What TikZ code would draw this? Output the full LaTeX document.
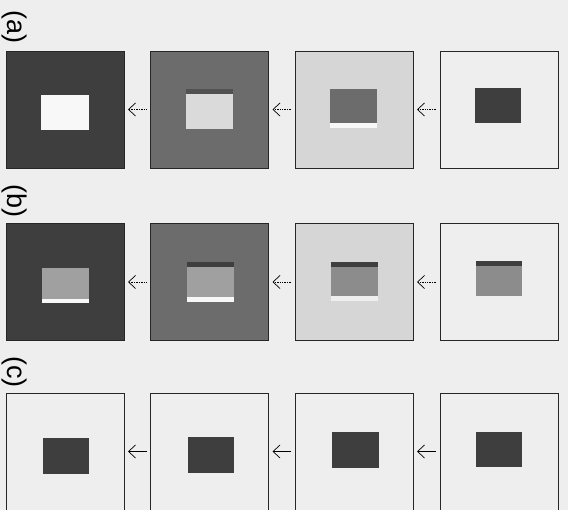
\documentclass[tikz,border=0pt]{standalone}
\usepackage{fontspec}
\setmainfont{Liberation Sans}
\usetikzlibrary{arrows.meta}
\definecolor{paper}{HTML}{EEEEEE}
\definecolor{dk}{HTML}{3E3E3E}
\definecolor{md}{HTML}{6C6C6C}
\definecolor{lt}{HTML}{D6D6D6}
\definecolor{wh}{HTML}{F8F8F8}
\definecolor{gr}{HTML}{A0A0A0}
\definecolor{gm}{HTML}{8C8C8C}
\begin{document}
\begin{tikzpicture}[x=1pt,y=-1pt,
  outer/.style={draw=black!85, line width=0.8pt, minimum width=118pt, minimum height=117pt, inner sep=0pt, outer sep=0pt},
  lbl/.style={rotate=-90, inner sep=0pt, font=\fontsize{27}{30}\selectfont},
  flow/.style={line width=0.7pt, densely dotted, -{Straight Barb[length=7pt,width=13pt]}, shorten >=4pt, shorten <=4pt},
  flowsolid/.style={line width=0.7pt, -{Straight Barb[length=7pt,width=13pt]}, shorten >=4pt, shorten <=4pt}]
\useasboundingbox (0,0) rectangle (568,510);
\fill[paper] (0,0) rectangle (568,510);

% labels
\node[lbl] (la) at (14,27) {(a)};
\node[lbl] (lb) at (14,201) {(b)};
\node[lbl] (lc) at (14,372) {(c)};

% row (a)
\node[outer, fill=dk] (a1) at (65,109.5) {};
\node[outer, fill=md] (a2) at (209.5,109.5) {};
\node[outer, fill=lt] (a3) at (354,109.5) {};
\node[outer, fill=paper] (a4) at (499,109.5) {};
\fill[wh] (41,95) rectangle (89,130);
\fill[dk!90] (186,89) rectangle (233,94);
\fill[lt!90!white] (186,94) rectangle (233,129);
\fill[md] (330,89) rectangle (377,123);
\fill[wh] (330,123) rectangle (377,128);
\fill[dk] (475,88) rectangle (521,123);
\draw[flow] (a2.west) -- (a1.east);
\draw[flow] (a3.west) -- (a2.east);
\draw[flow] (a4.west) -- (a3.east);

% row (b)
\node[outer, fill=dk] (b1) at (65,282) {};
\node[outer, fill=md] (b2) at (209.5,282) {};
\node[outer, fill=lt] (b3) at (354,282) {};
\node[outer, fill=paper] (b4) at (499,282) {};
\fill[gr] (42,268) rectangle (89,299);
\fill[wh] (42,299) rectangle (89,303);
\fill[dk] (187,262) rectangle (234,267);
\fill[gr] (187,267) rectangle (234,297);
\fill[wh] (187,297) rectangle (234,302);
\fill[dk] (331,262) rectangle (378,267);
\fill[gm] (331,267) rectangle (378,296);
\fill[wh!70!lt] (331,296) rectangle (378,301);
\fill[dk] (476,261) rectangle (522,266);
\fill[gm] (476,266) rectangle (522,296);
\draw[flow] (b2.west) -- (b1.east);
\draw[flow] (b3.west) -- (b2.east);
\draw[flow] (b4.west) -- (b3.east);

% row (c)
\node[outer, fill=paper] (c1) at (65,451.5) {};
\node[outer, fill=paper] (c2) at (209.5,451.5) {};
\node[outer, fill=paper] (c3) at (354,451.5) {};
\node[outer, fill=paper] (c4) at (499,451.5) {};
\fill[dk] (43,438) rectangle (89,474);
\fill[dk] (188,437) rectangle (234,473);
\fill[dk] (332,432) rectangle (379,468);
\fill[dk] (476,432) rectangle (522,467);
\draw[flowsolid] (c2.west) -- (c1.east);
\draw[flowsolid] (c3.west) -- (c2.east);
\draw[flowsolid] (c4.west) -- (c3.east);
\end{tikzpicture}
\end{document}
